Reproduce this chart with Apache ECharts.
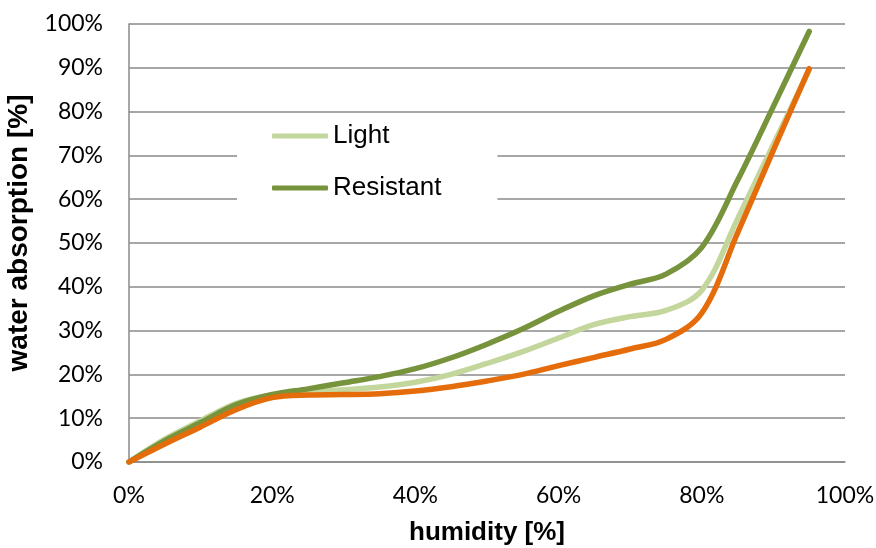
<!DOCTYPE html>
<html>
<head>
<meta charset="utf-8">
<script src="https://cdn.jsdelivr.net/npm/echarts@6/dist/echarts.min.js"></script>
<style>html,body{margin:0;padding:0;background:#fff;}#c{width:876px;height:548px;}</style>
</head>
<body>
<div id="c"></div>
<script>
const humidity = [0,5,10,15,20,25,30,35,40,45,50,55,60,65,70,75,80,85,90,95];
const lightVals = [0,5.2,9.4,13.4,15.3,16.0,16.5,17.1,18.2,20.0,22.5,25.2,28.3,31.4,33.2,34.6,39.2,55.5,72.5,89.5];
const resistantVals = [0,4.9,9.0,13.1,15.4,16.7,18.1,19.5,21.3,23.8,26.9,30.4,34.4,38.0,40.6,42.9,49.0,64.3,81.2,98.3];
const standardVals = [0,4.1,8.0,12.0,14.7,15.3,15.4,15.6,16.2,17.2,18.5,20.0,22.0,23.9,25.8,28.0,34.0,52.3,71.2,89.8];
const xTicks = [0,20,40,60,80,100];
const yTicks = [0,10,20,30,40,50,60,70,80,90,100];

function pairs(vals){ return humidity.map((h,i)=>[h, vals[i]]); }

const chart = echarts.init(document.getElementById('c'), null, {renderer:'canvas'});
const gridColor = '#8a8a8a';
const labelFont = 'Lato';
chart.setOption({
  animation:false,
  backgroundColor:'#ffffff',
  grid:{left:129, right:31, top:24, bottom:86, containLabel:false, outerBoundsMode:'none'},
  legend:{
    data:['Light','Resistant'],
    orient:'vertical',
    left:237, top:117,
    padding:[6,56,20,35],
    backgroundColor:'#ffffff',
    icon:'roundRect',
    itemWidth:56, itemHeight:5, itemGap:26,
    textStyle:{fontFamily:'Liberation Sans', fontSize:26, color:'#000'}
  },
  xAxis:{
    type:'value', min:0, max:100, interval:20,
    name:'humidity [%]', nameLocation:'middle', nameGap:58,
    nameTextStyle:{fontFamily:'Liberation Sans', fontWeight:'bold', fontSize:26, color:'#000'},
    axisLine:{show:true, lineStyle:{color:gridColor, width:1.5}},
    axisTick:{show:false},
    splitLine:{show:false},
    axisLabel:{margin:22, fontFamily:labelFont, fontSize:23, color:'#000', formatter:v=>v+'%'}
  },
  yAxis:{
    type:'value', min:0, max:100, interval:10,
    name:'water absorption [%]', nameLocation:'middle', nameGap:91, nameRotate:90,
    nameTextStyle:{fontFamily:'Liberation Sans', fontWeight:'bold', fontSize:28, color:'#000', padding:[0,0,0,20]},
    axisLine:{show:true, lineStyle:{color:gridColor, width:1.5}},
    axisTick:{show:false},
    splitLine:{show:true, lineStyle:{color:gridColor, width:1.5}},
    axisLabel:{margin:26, fontFamily:labelFont, fontSize:23, color:'#000', formatter:v=>v+'%'}
  },
  series:[
    {name:'Light', type:'line', data:pairs(lightVals), smooth:0.35, symbol:'none',
     lineStyle:{color:'#C3D69B', width:5.5, cap:'round'}, itemStyle:{color:'#C3D69B'}},
    {name:'Resistant', type:'line', data:pairs(resistantVals), smooth:0.35, symbol:'none',
     lineStyle:{color:'#77933C', width:5.5, cap:'round'}, itemStyle:{color:'#77933C'}},
    {name:'Standard', type:'line', data:pairs(standardVals), smooth:0.35, symbol:'none',
     lineStyle:{color:'#E46C0A', width:5.5, cap:'round'}, itemStyle:{color:'#E46C0A'}}
  ]
});
</script>
</body>
</html>
